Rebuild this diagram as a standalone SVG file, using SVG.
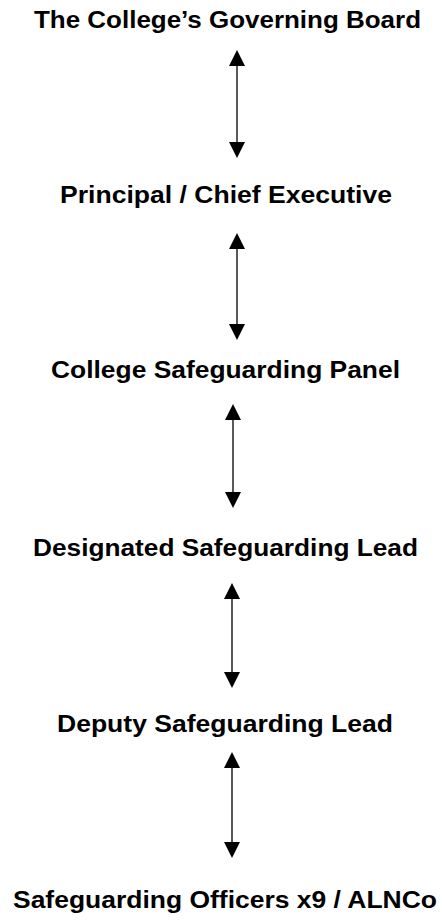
<svg xmlns="http://www.w3.org/2000/svg" width="442" height="920" viewBox="0 0 442 920">
<style>
.lbl{font-family:"Liberation Sans",Arial,sans-serif;font-weight:bold;font-size:23px;fill:#000}
.conn line{stroke:#000;stroke-width:1.3;fill:none}
</style>
<defs>
<marker id="ah" viewBox="0 0 16 16" refX="0" refY="8" markerWidth="16" markerHeight="16" markerUnits="userSpaceOnUse" orient="auto-start-reverse">
<path d="M0,0 L16,8 L0,16 z" fill="#000"/>
</marker>
</defs>
<rect width="442" height="920" fill="#fff"/>
<g id="n1"><text class="lbl" x="34" y="28" textLength="387" lengthAdjust="spacingAndGlyphs">The College’s Governing Board</text></g>
<g id="n2"><text class="lbl" x="60" y="203" textLength="332" lengthAdjust="spacingAndGlyphs">Principal / Chief Executive</text></g>
<g id="n3"><text class="lbl" x="51" y="378" textLength="349" lengthAdjust="spacingAndGlyphs">College Safeguarding Panel</text></g>
<g id="n4"><text class="lbl" x="33" y="556" textLength="385" lengthAdjust="spacingAndGlyphs">Designated Safeguarding Lead</text></g>
<g id="n5"><text class="lbl" x="57" y="732" textLength="336" lengthAdjust="spacingAndGlyphs">Deputy Safeguarding Lead</text></g>
<g id="n6"><text class="lbl" x="13" y="908" textLength="424" lengthAdjust="spacingAndGlyphs">Safeguarding Officers x9 / ALNCo</text></g>
<g id="connectors" class="conn">
<line x1="237" y1="66" x2="237" y2="142" marker-start="url(#ah)" marker-end="url(#ah)"/>
<line x1="237" y1="249" x2="237" y2="324" marker-start="url(#ah)" marker-end="url(#ah)"/>
<line x1="233" y1="420" x2="233" y2="492" marker-start="url(#ah)" marker-end="url(#ah)"/>
<line x1="232" y1="599" x2="232" y2="672" marker-start="url(#ah)" marker-end="url(#ah)"/>
<line x1="232" y1="768" x2="232" y2="842" marker-start="url(#ah)" marker-end="url(#ah)"/>
</g>
</svg>
